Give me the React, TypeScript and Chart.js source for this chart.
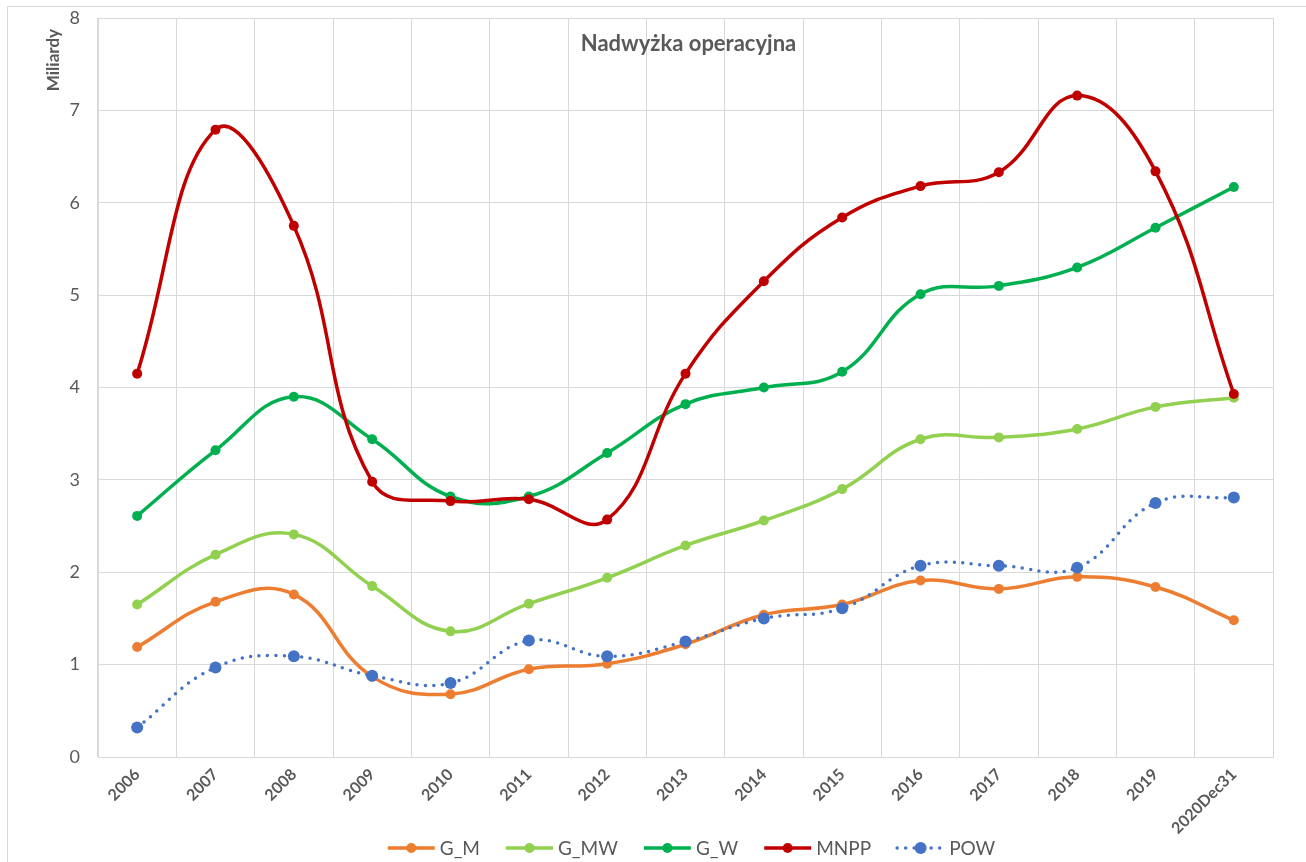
import React, { useEffect, useRef } from "react";
import { Chart, registerables } from "chart.js";

Chart.register(...registerables);

const categories = ["2006", "2007", "2008", "2009", "2010", "2011", "2012", "2013", "2014", "2015", "2016", "2017", "2018", "2019", "2020Dec31"];
const seriesNames = ["G_M", "G_MW", "G_W", "MNPP", "POW"];
const gM = [1.19, 1.68, 1.76, 0.87, 0.68, 0.95, 1.01, 1.22, 1.54, 1.65, 1.91, 1.82, 1.95, 1.84, 1.48];
const gMW = [1.65, 2.19, 2.41, 1.85, 1.36, 1.66, 1.94, 2.29, 2.56, 2.9, 3.44, 3.46, 3.55, 3.79, 3.89];
const gW = [2.61, 3.32, 3.9, 3.44, 2.82, 2.82, 3.29, 3.82, 4.0, 4.17, 5.01, 5.1, 5.3, 5.73, 6.17];
const mnpp = [4.15, 6.79, 5.75, 2.98, 2.77, 2.79, 2.57, 4.15, 5.15, 5.84, 6.18, 6.33, 7.16, 6.34, 3.93];
const pow = [0.32, 0.97, 1.09, 0.88, 0.8, 1.26, 1.09, 1.25, 1.5, 1.61, 2.07, 2.07, 2.05, 2.75, 2.81];
const yMin = 0;
const yMax = 8;
const yStep = 1;
const chartTitle = "Nadwyżka operacyjna";
const yAxisTitle = "Miliardy";

const colors = ["#ED7D31", "#92D050", "#00B050", "#C00000", "#4472C4"];
const FONT = "Lato, 'Open Sans', sans-serif";
const TEXT = "#595959";
const GRID = "#D9D9D9";

const decorPlugin = {
  id: "decor",
  afterDraw(chart: any) {
    const { ctx, chartArea } = chart;
    ctx.save();
    // outer border
    ctx.strokeStyle = GRID;
    ctx.lineWidth = 1;
    ctx.strokeRect(7.5, 6.5, 1400, 1000);
    // title
    ctx.fillStyle = TEXT;
    ctx.font = `bold 22px ${FONT}`;
    ctx.textAlign = "center";
    ctx.textBaseline = "middle";
    ctx.fillText(chartTitle, (chartArea.left + chartArea.right) / 2 + 3, 44);
    // y axis title
    ctx.save();
    ctx.translate(54, 29);
    ctx.rotate(-Math.PI / 2);
    ctx.font = `bold 17px ${FONT}`;
    ctx.textAlign = "right";
    ctx.textBaseline = "middle";
    ctx.fillText(yAxisTitle, 0, 0);
    ctx.restore();
    // legend
    ctx.font = `19px ${FONT}`;
    const lineLen = 47;
    const gapText = 5;
    const gapItem = 26;
    const items = chart.data.datasets.map((ds: any) => ({
      ds,
      w: lineLen + gapText + ctx.measureText(ds.label).width,
    }));
    const total = items.reduce((a: number, it: any) => a + it.w, 0) + gapItem * (items.length - 1);
    let x = (chartArea.left + chartArea.right) / 2 + 6 - total / 2;
    const y = 848;
    for (const it of items) {
      const ds = it.ds;
      ctx.strokeStyle = ds.borderColor;
      ctx.lineWidth = ds.borderWidth;
      ctx.lineCap = ds.borderCapStyle || "butt";
      ctx.setLineDash(ds.borderDash || []);
      ctx.beginPath();
      ctx.moveTo(x, y);
      ctx.lineTo(x + lineLen, y);
      ctx.stroke();
      ctx.setLineDash([]);
      ctx.fillStyle = ds.pointBackgroundColor;
      ctx.beginPath();
      ctx.arc(x + lineLen / 2, y, ds.pointRadius, 0, Math.PI * 2);
      ctx.fill();
      ctx.fillStyle = TEXT;
      ctx.textAlign = "left";
      ctx.textBaseline = "middle";
      ctx.fillText(ds.label, x + lineLen + gapText, y + 1);
      x += it.w + gapItem;
    }
    ctx.restore();
  },
};

export default function App() {
  const ref = useRef<HTMLCanvasElement | null>(null);
  useEffect(() => {
    if (!ref.current) return;
    const values = [gM, gMW, gW, mnpp, pow];
    const datasets = values.map((v, i) => {
      const dotted = i === 4;
      return {
        label: seriesNames[i],
        data: v,
        borderColor: colors[i],
        backgroundColor: colors[i],
        pointBackgroundColor: colors[i],
        pointBorderColor: colors[i],
        pointBorderWidth: 0,
        pointRadius: dotted ? 6 : 5,
        borderWidth: 3.5,
        borderDash: dotted ? [0, 8.5] : [],
        borderCapStyle: dotted ? "round" : "butt",
        tension: 0.42,
        fill: false,
        order: 5 - i,
      };
    });
    const chart = new Chart(ref.current, {
      type: "line",
      data: { labels: categories, datasets: datasets as any },
      options: {
        animation: false,
        responsive: false,
        maintainAspectRatio: false,
        layout: { padding: { top: 18, right: 33, left: 0, bottom: 0 } },
        plugins: {
          legend: { display: false },
          title: { display: false },
          tooltip: { enabled: false },
        },
        scales: {
          x: {
            offset: true,
            grid: { offset: true, color: GRID, lineWidth: 1, drawTicks: false },
            border: { color: GRID },
            ticks: {
              minRotation: 45,
              maxRotation: 45,
              autoSkip: false,
              color: TEXT,
              padding: 8,
              font: { family: FONT, size: 16, weight: "bold" },
            },
            afterFit: (s: any) => {
              s.height = 105;
            },
          },
          y: {
            min: yMin,
            max: yMax,
            grid: { color: GRID, lineWidth: 1, drawTicks: false },
            border: { color: GRID },
            ticks: {
              stepSize: yStep,
              color: TEXT,
              padding: 18,
              font: { family: FONT, size: 18 },
            },
            afterFit: (s: any) => {
              s.width = 98;
              s.paddingTop = 0;
              s.paddingBottom = 0;
            },
          },
        },
      },
      plugins: [decorPlugin],
    });
    return () => chart.destroy();
  }, []);
  return (
    <div style={{ position: "fixed", left: 0, top: 0, width: 1306, height: 862, background: "#fff" }}>
      <canvas ref={ref} width={1306} height={862} style={{ display: "block" }} />
    </div>
  );
}
